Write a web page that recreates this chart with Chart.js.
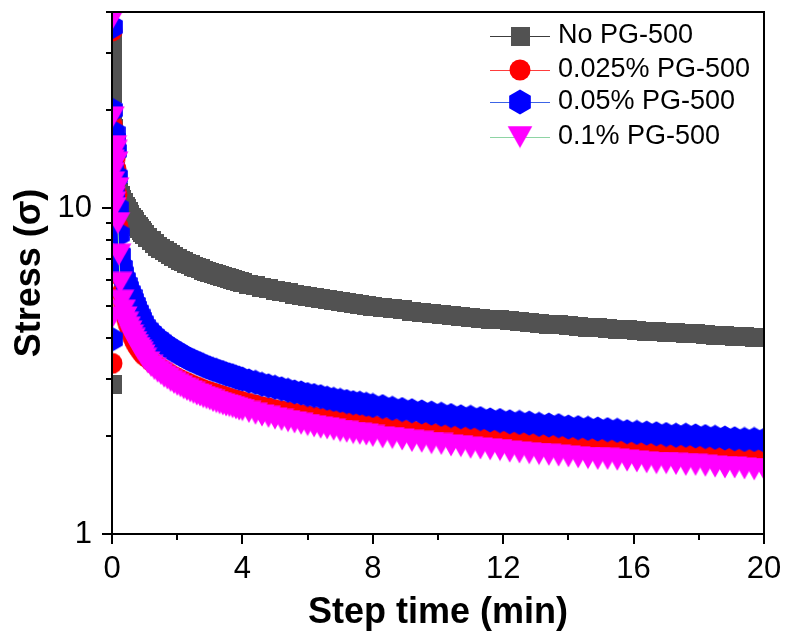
<!DOCTYPE html>
<html>
<head>
<meta charset="utf-8">
<script src="https://cdn.jsdelivr.net/npm/chart.js@4/dist/chart.umd.min.js"></script>
<style>
body{margin:0;background:#fff;}
canvas{display:block;}
</style>
</head>
<body>
<canvas id="stressChart" width="786" height="638"></canvas>
<script>

// step time (min), shared by all four runs
const stepTime = [
0, 0.003, 0.006, 0.01, 0.015, 0.02, 0.03, 0.04, 0.05, 0.065, 0.08, 0.1, 0.12, 0.15, 0.18, 0.21, 0.25,
0.3, 0.35, 0.4, 0.45, 0.5, 0.55, 0.6, 0.65, 0.7, 0.75, 0.8, 0.85, 0.9, 0.95, 1.0,
1.1, 1.2, 1.3, 1.4, 1.5, 1.6, 1.7, 1.8, 1.9, 2.0, 2.1, 2.2, 2.3, 2.4, 2.5, 2.6, 2.7, 2.8, 2.9, 3.0,
3.1, 3.2, 3.3, 3.4, 3.5, 3.6, 3.7, 3.8, 3.9, 4.0,
4.2, 4.4, 4.6, 4.8, 5.0, 5.2, 5.4, 5.6, 5.8, 6.0, 6.2, 6.4, 6.6, 6.8, 7.0, 7.2, 7.4, 7.6, 7.8, 8.0,
8.3, 8.6, 8.9, 9.2, 9.5, 9.8, 10.1, 10.4, 10.7, 11.0, 11.3, 11.6, 11.9, 12.2, 12.5, 12.8, 13.1, 13.4, 13.7, 14.0,
14.3, 14.6, 14.9, 15.2, 15.5, 15.8, 16.1, 16.4, 16.7, 17.0, 17.3, 17.6, 17.9, 18.2, 18.5, 18.8, 19.1, 19.4, 19.7, 20.0
];

const stressNone = [
2.87, 34.0, 31.0, 28.0, 25.0, 22.5, 19.5, 17.5, 16.0, 14.8, 13.8, 13.0, 12.4, 11.9, 11.5, 11.2, 10.9,
10.65, 10.4, 10.15, 9.95, 9.75, 9.55, 9.38, 9.22, 9.07, 8.93, 8.8, 8.67, 8.55, 8.43, 8.3,
8.11, 7.94, 7.79, 7.65, 7.52, 7.40, 7.29, 7.19, 7.10, 7.01, 6.93, 6.85, 6.77, 6.70, 6.64, 6.57, 6.51, 6.46, 6.40, 6.35,
6.30, 6.25, 6.20, 6.16, 6.11, 6.07, 6.03, 5.99, 5.95, 5.92,
5.85, 5.78, 5.72, 5.66, 5.60, 5.55, 5.50, 5.45, 5.40, 5.36, 5.32, 5.28, 5.24, 5.20, 5.16, 5.13, 5.09, 5.06, 5.03, 5.00,
4.95, 4.91, 4.87, 4.83, 4.79, 4.76, 4.72, 4.69, 4.65, 4.62, 4.59, 4.56, 4.54, 4.51, 4.48, 4.46, 4.43, 4.41, 4.38, 4.36,
4.34, 4.31, 4.29, 4.27, 4.25, 4.23, 4.21, 4.19, 4.18, 4.16, 4.14, 4.12, 4.11, 4.09, 4.07, 4.06, 4.04, 4.03, 4.01, 4.00
];

const stress0025 = [
3.34, 35.0, 18.0, 14.0, 12.8, 12.0, 11.4, 10.9, 10.5, 10.1, 14.8, 14.3, 13.2, 11.0, 8.8, 7.3, 6.2,
5.5, 5.1, 4.8, 4.58, 4.4, 4.25, 4.12, 4.0, 3.9, 3.82, 3.75, 3.69, 3.63, 3.58, 3.53,
3.47, 3.40, 3.33, 3.27, 3.22, 3.17, 3.13, 3.08, 3.04, 3.01, 2.97, 2.94, 2.91, 2.88, 2.85, 2.82, 2.80, 2.77, 2.75, 2.73,
2.71, 2.69, 2.67, 2.65, 2.63, 2.61, 2.59, 2.58, 2.56, 2.55,
2.52, 2.49, 2.46, 2.44, 2.41, 2.39, 2.37, 2.35, 2.33, 2.31, 2.29, 2.27, 2.26, 2.24, 2.23, 2.21, 2.20, 2.18, 2.17, 2.16,
2.14, 2.12, 2.10, 2.08, 2.07, 2.05, 2.04, 2.02, 2.01, 2.00, 1.98, 1.97, 1.96, 1.95, 1.94, 1.93, 1.91, 1.90, 1.89, 1.88,
1.87, 1.87, 1.86, 1.85, 1.84, 1.83, 1.82, 1.81, 1.81, 1.80, 1.79, 1.78, 1.78, 1.77, 1.76, 1.76, 1.75, 1.74, 1.74, 1.73
];

const stress005 = [
3.96, 36.0, 20.0, 15.5, 14.0, 13.0, 12.2, 11.6, 11.0, 10.6, 17.0, 16.2, 15.0, 12.5, 10.0, 8.3, 7.2,
6.6, 6.3, 6.05, 5.85, 5.68, 5.52, 5.38, 5.22, 5.08, 4.94, 4.81, 4.68, 4.57, 4.46, 4.35,
4.24, 4.14, 4.05, 3.97, 3.90, 3.83, 3.77, 3.71, 3.66, 3.61, 3.56, 3.52, 3.47, 3.43, 3.40, 3.36, 3.33, 3.29, 3.26, 3.23,
3.20, 3.18, 3.15, 3.13, 3.10, 3.08, 3.06, 3.03, 3.01, 2.99,
2.95, 2.92, 2.88, 2.85, 2.82, 2.79, 2.76, 2.73, 2.71, 2.68, 2.66, 2.64, 2.61, 2.59, 2.57, 2.55, 2.53, 2.52, 2.50, 2.48,
2.46, 2.43, 2.41, 2.39, 2.37, 2.35, 2.33, 2.31, 2.29, 2.28, 2.26, 2.24, 2.23, 2.21, 2.20, 2.19, 2.17, 2.16, 2.15, 2.13,
2.12, 2.11, 2.10, 2.09, 2.08, 2.06, 2.05, 2.04, 2.03, 2.02, 2.01, 2.01, 2.00, 1.99, 1.98, 1.97, 1.96, 1.95, 1.95, 1.94
];

const stress01 = [
4.6, 38.0, 19.0, 14.0, 12.8, 12.0, 11.3, 10.8, 10.4, 10.0, 15.5, 15.0, 13.8, 11.5, 9.0, 7.2, 5.9,
5.2, 4.85, 4.62, 4.45, 4.3, 4.18, 4.07, 3.97, 3.88, 3.8, 3.72, 3.66, 3.6, 3.53, 3.45,
3.36, 3.28, 3.21, 3.15, 3.10, 3.04, 3.00, 2.95, 2.91, 2.87, 2.84, 2.80, 2.77, 2.74, 2.71, 2.68, 2.66, 2.63, 2.61, 2.59,
2.56, 2.54, 2.52, 2.50, 2.48, 2.47, 2.45, 2.43, 2.41, 2.40,
2.37, 2.34, 2.31, 2.29, 2.26, 2.24, 2.22, 2.20, 2.18, 2.16, 2.14, 2.12, 2.11, 2.09, 2.07, 2.06, 2.04, 2.03, 2.02, 2.00,
1.98, 1.97, 1.95, 1.93, 1.92, 1.90, 1.89, 1.87, 1.86, 1.84, 1.83, 1.82, 1.81, 1.79, 1.78, 1.77, 1.76, 1.75, 1.74, 1.73,
1.72, 1.71, 1.70, 1.70, 1.69, 1.68, 1.67, 1.66, 1.65, 1.65, 1.64, 1.63, 1.63, 1.62, 1.61, 1.60, 1.60, 1.59, 1.58, 1.58
];

const seriesNames = [
"No PG-500",
"0.025% PG-500",
"0.05% PG-500",
"0.1% PG-500"
];

const xTicks = [0, 4, 8, 12, 16, 20];
const xMinorTicks = [2, 6, 10, 14, 18];
const yTicks = [1, 10];
const yMinorTicks = [2, 3, 4, 5, 6, 7, 8, 9, 20, 30, 40];

const FONT = "'Liberation Sans', Arial, sans-serif";

Chart.defaults.font.family = FONT;
Chart.defaults.color = "#000";

function makeMarker(shape, color){

const c = document.createElement("canvas");
const g = c.getContext("2d");

if(shape==="square"){
c.width = 19; c.height = 19;
g.fillStyle = color;
g.fillRect(0,0,19,19);
}

if(shape==="circle"){
c.width = 22; c.height = 22;
g.fillStyle = color;
g.beginPath();
g.arc(11,11,10.5,0,Math.PI*2);
g.fill();
}

if(shape==="hexagon"){
c.width = 22; c.height = 26;
g.fillStyle = color;
g.beginPath();
for(let i=0;i<6;i++){
const a = -Math.PI/2 + i*Math.PI/3;
const px = 11 + 12.5*Math.cos(a);
const py = 13 + 12.5*Math.sin(a);
if(i===0) g.moveTo(px,py); else g.lineTo(px,py);
}
g.closePath();
g.fill();
}

if(shape==="triangleDown"){
c.width = 26; c.height = 23;
g.fillStyle = color;
g.beginPath();
g.moveTo(0.5,0.5);
g.lineTo(25.5,0.5);
g.lineTo(13,22.5);
g.closePath();
g.fill();
}

return c;

}

const markers = [
makeMarker("square","#525252"),
makeMarker("circle","#ff0000"),
makeMarker("hexagon","#0000ff"),
makeMarker("triangleDown","#ff00ff")
];

const lineColors = [
"#3c3c3c",
"#ff3c3c",
"#3c64e6",
"#8ed4a4"
];

const allStress = [stressNone, stress0025, stress005, stress01];

function toPoints(values){
return stepTime.map((t,i)=>({x:t, y:values[i]}));
}

const datasets = allStress.map((values,i)=>({
label: seriesNames[i],
data: toPoints(values),
showLine: true,
borderColor: lineColors[i],
borderWidth: 1,
pointStyle: markers[i],
pointRadius: 11,
pointHoverRadius: 11,
clip: 0,
order: 4 - i
}));

// axis frame and tick marks (outward, major longer than minor)
const framePlugin = {
id: "frame",
afterDatasetsDraw(chart){

const {ctx, chartArea:a, scales} = chart;
const x = scales.x;
const y = scales.y;

ctx.save();
ctx.strokeStyle = "#000";
ctx.lineWidth = 2;
ctx.strokeRect(a.left, a.top, a.right-a.left, a.bottom-a.top);

ctx.beginPath();

xTicks.forEach(v=>{
const px = Math.round(x.getPixelForValue(v));
ctx.moveTo(px, a.bottom);
ctx.lineTo(px, a.bottom+10);
});

xMinorTicks.forEach(v=>{
const px = Math.round(x.getPixelForValue(v));
ctx.moveTo(px, a.bottom);
ctx.lineTo(px, a.bottom+6);
});

yTicks.forEach(v=>{
const py = Math.round(y.getPixelForValue(v));
ctx.moveTo(a.left, py);
ctx.lineTo(a.left-10, py);
});

yMinorTicks.forEach(v=>{
const py = Math.round(y.getPixelForValue(v));
ctx.moveTo(a.left, py);
ctx.lineTo(a.left-6, py);
});

ctx.stroke();
ctx.restore();

}
};

// legend drawn as line + symbol + text
const legendPlugin = {
id: "lineLegend",
afterDraw(chart){

const ctx = chart.ctx;
const rowY = [36, 70, 102, 137];

ctx.save();
ctx.font = "27px " + FONT;
ctx.textBaseline = "middle";
ctx.textAlign = "left";
ctx.fillStyle = "#000";

seriesNames.forEach((name,i)=>{

const yy = rowY[i];

ctx.strokeStyle = lineColors[i];
ctx.lineWidth = 1;
ctx.beginPath();
ctx.moveTo(490, yy+0.5);
ctx.lineTo(550, yy+0.5);
ctx.stroke();

const m = markers[i];
ctx.drawImage(m, 520 - m.width/2, yy - m.height/2);

ctx.fillText(name, 558, yy);

});

ctx.restore();

}
};

new Chart(

document.getElementById("stressChart"),

{

type: "scatter",

data: {datasets},

options: {

responsive: false,
animation: false,
devicePixelRatio: 1,

layout: {
padding: {left:0, right:22, top:9, bottom:0}
},

plugins: {
legend: {display:false},
tooltip: {enabled:false}
},

scales: {

x: {
type: "linear",
min: 0,
max: 20,
afterBuildTicks: s=>{ s.ticks = xTicks.map(v=>({value:v})); },
afterFit: s=>{ s.height = 104; s.paddingLeft = 0; s.paddingRight = 0; },
grid: {display:false, drawTicks:true, tickLength:10},
border: {display:false},
ticks: {
autoSkip: false,
maxRotation: 0,
padding: 7,
color: "#000",
font: {size:31}
},
title: {
display: true,
text: "Step time (min)",
color: "#000",
font: {size:36, weight:"bold"},
padding: {top:0, bottom:3}
}
},

y: {
type: "logarithmic",
min: 1,
max: 40,
afterBuildTicks: s=>{ s.ticks = yTicks.concat(yMinorTicks).sort((a,b)=>a-b).map(v=>({value:v})); },
afterFit: s=>{ s.width = 112; s.paddingTop = 0; s.paddingBottom = 0; },
grid: {display:false, drawTicks:true, tickLength:10},
border: {display:false},
ticks: {
autoSkip: false,
padding: 10,
color: "#000",
font: {size:31},
callback: v=> yTicks.includes(v) ? String(v) : ""
},
title: {
display: true,
text: "Stress (σ)",
color: "#000",
font: {size:36, weight:"bold"},
padding: {top:8, bottom:0}
}
}

}

},

plugins: [framePlugin, legendPlugin]

}

);

</script>
</body>
</html>
